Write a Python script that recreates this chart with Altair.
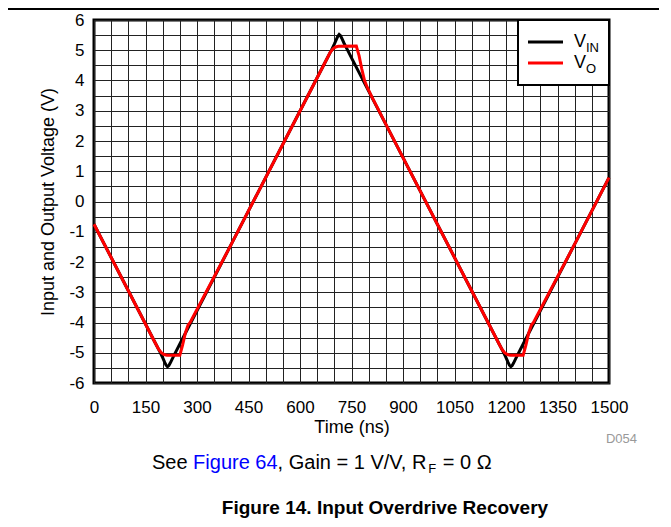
import altair as alt
import pandas as pd

# ---- data ----
t_in = [0, 100, 180, 192, 200, 206, 210, 214, 218, 222, 228, 236, 250, 400, 600, 680, 692, 700,
        706, 710, 714, 718, 722, 728, 736, 750, 900, 1100, 1180, 1192, 1200, 1206, 1210, 1214,
        1218, 1222, 1228, 1236, 1250, 1400, 1500]
v_in = [-0.75, -2.95, -4.71, -4.97, -5.16, -5.32, -5.41, -5.46, -5.42, -5.34, -5.2, -5.02, -4.71,
        -1.41, 2.99, 4.75, 5.01, 5.2, 5.36, 5.46, 5.52, 5.48, 5.39, 5.24, 5.06, 4.75, 1.45, -2.95,
        -4.71, -4.97, -5.16, -5.32, -5.41, -5.46, -5.42, -5.34, -5.2, -5.02, -4.71, -1.41, 0.79]

t_out = [0, 100, 163, 180, 188, 196, 204, 212, 250, 258, 266, 274, 280, 400, 600, 680, 688, 696,
         704, 712, 764, 772, 780, 788, 796, 810, 900, 1100, 1180, 1188, 1196, 1204, 1212, 1250,
         1258, 1266, 1274, 1280, 1400, 1500]
v_out = [-0.75, -2.95, -4.34, -4.71, -4.88, -5.0, -5.06, -5.08, -5.08, -4.75, -4.35, -4.08, -4.0,
         -1.41, 2.99, 4.75, 4.93, 5.05, 5.11, 5.13, 5.14, 4.82, 4.38, 4.0, 3.77, 3.44, 1.45, -2.95,
         -4.71, -4.88, -5.0, -5.06, -5.08, -5.08, -4.75, -4.35, -4.08, -4.0, -1.41, 0.79]

x_grid = list(range(0, 1501, 50))
y_grid = [v / 2 for v in range(-12, 13)]

FONT = "Liberation Sans"
W, H = 515, 363

df_in = pd.DataFrame({"t": t_in, "v": v_in})
df_out = pd.DataFrame({"t": t_out, "v": v_out})

x_axis = alt.Axis(
    values=x_grid,
    labelExpr="datum.value % 150 === 0 ? '' + datum.value : ''",
    grid=True, gridColor="#222", gridWidth=1,
    ticks=False, tickSize=0, domain=False,
    labelOverlap=False, labelFlush=False,
    labelFont=FONT, labelFontSize=17, labelColor="black", labelPadding=16,
    title="Time (ns)", titleFont=FONT, titleFontSize=18, titleFontWeight="normal",
    titleColor="black", titlePadding=3,
)
y_axis = alt.Axis(
    values=y_grid,
    labelExpr="datum.value % 1 === 0 ? '' + datum.value : ''",
    grid=True, gridColor="#222", gridWidth=1,
    ticks=False, tickSize=0, domain=False,
    labelOverlap=False, labelFlush=False,
    labelFont=FONT, labelFontSize=17, labelColor="black", labelPadding=10,
    title="Input and Output Voltage (V)", titleFont=FONT, titleFontSize=18,
    titleFontWeight="normal", titleColor="black", titlePadding=11,
)
x_scale = alt.Scale(domain=[0, 1500], nice=False, zero=False)
y_scale = alt.Scale(domain=[-6, 6], nice=False, zero=False)

line_in = alt.Chart(df_in).mark_line(color="black", strokeWidth=3).encode(
    x=alt.X("t:Q", scale=x_scale, axis=x_axis), y=alt.Y("v:Q", scale=y_scale, axis=y_axis))
line_out = alt.Chart(df_out).mark_line(color="#ff0000", strokeWidth=3).encode(
    x=alt.X("t:Q", scale=x_scale, axis=x_axis), y=alt.Y("v:Q", scale=y_scale, axis=y_axis))

# ---- manual legend ----
one = pd.DataFrame({"a": [0]})
legend_box = alt.Chart(one).mark_rect(
    fill="white", stroke="black", strokeWidth=2
).encode(x=alt.value(424), x2=alt.value(515), y=alt.value(0), y2=alt.value(65))

leg_in = alt.Chart(one).mark_rule(color="black", strokeWidth=3).encode(
    x=alt.value(434), x2=alt.value(469), y=alt.value(22))
leg_out = alt.Chart(one).mark_rule(color="#ff0000", strokeWidth=3).encode(
    x=alt.value(434), x2=alt.value(469), y=alt.value(43))


def txt(s, x, y, size, color="black", align="left", weight="normal", baseline="alphabetic"):
    return alt.Chart(pd.DataFrame({"s": [s]})).mark_text(
        font=FONT, fontSize=size, color=color, align=align, fontWeight=weight,
        baseline=baseline,
    ).encode(text="s:N", x=alt.value(x), y=alt.value(y))


legend_texts = [
    txt("V", 480, 27, 18),
    txt("IN", 492, 32, 13),
    txt("V", 480, 48, 18),
    txt("O", 492, 53, 13),
]

# ---- caption pieces ----
AW = {' ': 278, 'S': 667, 'e': 556, 'F': 611, 'i': 222, 'g': 556, 'u': 556, 'r': 333,
      '6': 556, '4': 556, ',': 278, 'G': 778, 'a': 556, 'n': 556, '=': 584, '1': 556,
      'V': 667, '/': 278, 'R': 722, '0': 556, 'Ω': 768}


def tw(s, size):
    return sum(AW.get(c, 556) for c in s) * size / 1000.0


CAP = 20
SUB = 13
cap_y = 449
# (text, size, colour, vertical shift, extra gap after)
parts = [("See ", CAP, "black", 0, 0), ("Figure 64", CAP, "#0000ff", 0, 0),
         (", Gain = 1 V/V, R", CAP, "black", 0, 0), ("F", SUB, "black", 4, 1),
         ("\u00a0= 0 Ω", CAP, "black", 0, 0)]
total = sum(tw(p[0].replace("\u00a0", " "), p[1]) + p[4] for p in parts)
cx = 322 - 94 - total / 2
caption = []
for s, size, col, dy, gap in parts:
    if s.startswith("\u00a0"):
        caption.append(txt(s[1:], cx + tw(" ", size), cap_y + dy, size, color=col))
    else:
        caption.append(txt(s, cx, cap_y + dy, size, color=col))
    cx += tw(s.replace("\u00a0", " "), size) + gap

title = txt("Figure 14. Input Overdrive Recovery", 385 - 94, 494, 19, weight="bold", align="center")
code = txt("D054", 637 - 94, 423, 13, color="#999999", align="right")

top_rule = alt.Chart(one).mark_rule(color="black", strokeWidth=2).encode(
    x=alt.value(-86), x2=alt.value(W + 60), y=alt.value(-11))

chart = alt.layer(
    line_in, line_out, legend_box, leg_in, leg_out, *legend_texts, *caption, title, code, top_rule
).properties(
    width=W, height=H,
    autosize=alt.AutoSizeParams(type="none"),
    padding={"left": 86, "top": 12, "right": 50, "bottom": 136},
    background="white",
).configure_view(stroke="black", strokeWidth=3)

chart.save("out.html", embed_options={"renderer": "svg", "actions": False})
